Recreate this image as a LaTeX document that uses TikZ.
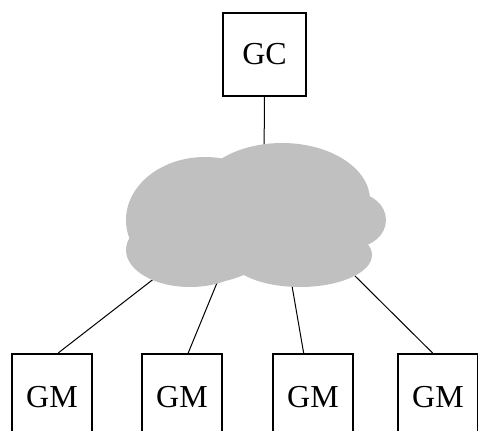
\documentclass[tikz,border=0pt]{standalone}
\usepackage{fontspec}
\setmainfont{Liberation Serif}
\usetikzlibrary{positioning}
\definecolor{cloudgray}{RGB}{192,192,192}
\tikzset{
    unitbox/.style={draw, line width=1pt, minimum width=40pt, minimum height=43pt, inner sep=0pt, font=\fontsize{16}{19}\selectfont},
    link/.style={line width=0.5pt}
}
\begin{document}
\begin{tikzpicture}[x=0.5pt, y=-0.5pt]
    \useasboundingbox (0,0) rectangle (478,430);

    % Controller
    \node[unitbox, minimum width=41.5pt, minimum height=41.5pt] (gc) at (264.5,54.5) {GC};

    % Members
    \foreach \i/\x in {1/52, 2/182, 3/313, 4/438} {
        \node[unitbox] (gm\i) at (\x,397) {GM};
    }

    % Attachment points on the cloud
    \coordinate (cltop) at (264,160);
    \coordinate (cl1) at (160,274);
    \coordinate (cl2) at (219,278);
    \coordinate (cl3) at (291,280);
    \coordinate (cl4) at (350,271);

    % Links
    \draw[link] (gc.south) -- (cltop);
    \foreach \i/\a in {1/82, 2/82, 3/102, 4/97} {
        \draw[link] (gm\i.\a) -- (cl\i);
    }

    % Network cloud
    \fill[cloudgray] (205,220) ellipse [x radius=79, y radius=63];
    \fill[cloudgray] (282,200) ellipse [x radius=88, y radius=57];
    \fill[cloudgray] (355,220) ellipse [x radius=31, y radius=27];
    \fill[cloudgray] (300,255) ellipse [x radius=72, y radius=32];
    \fill[cloudgray] (190,250) ellipse [x radius=64, y radius=37];
\end{tikzpicture}
\end{document}
